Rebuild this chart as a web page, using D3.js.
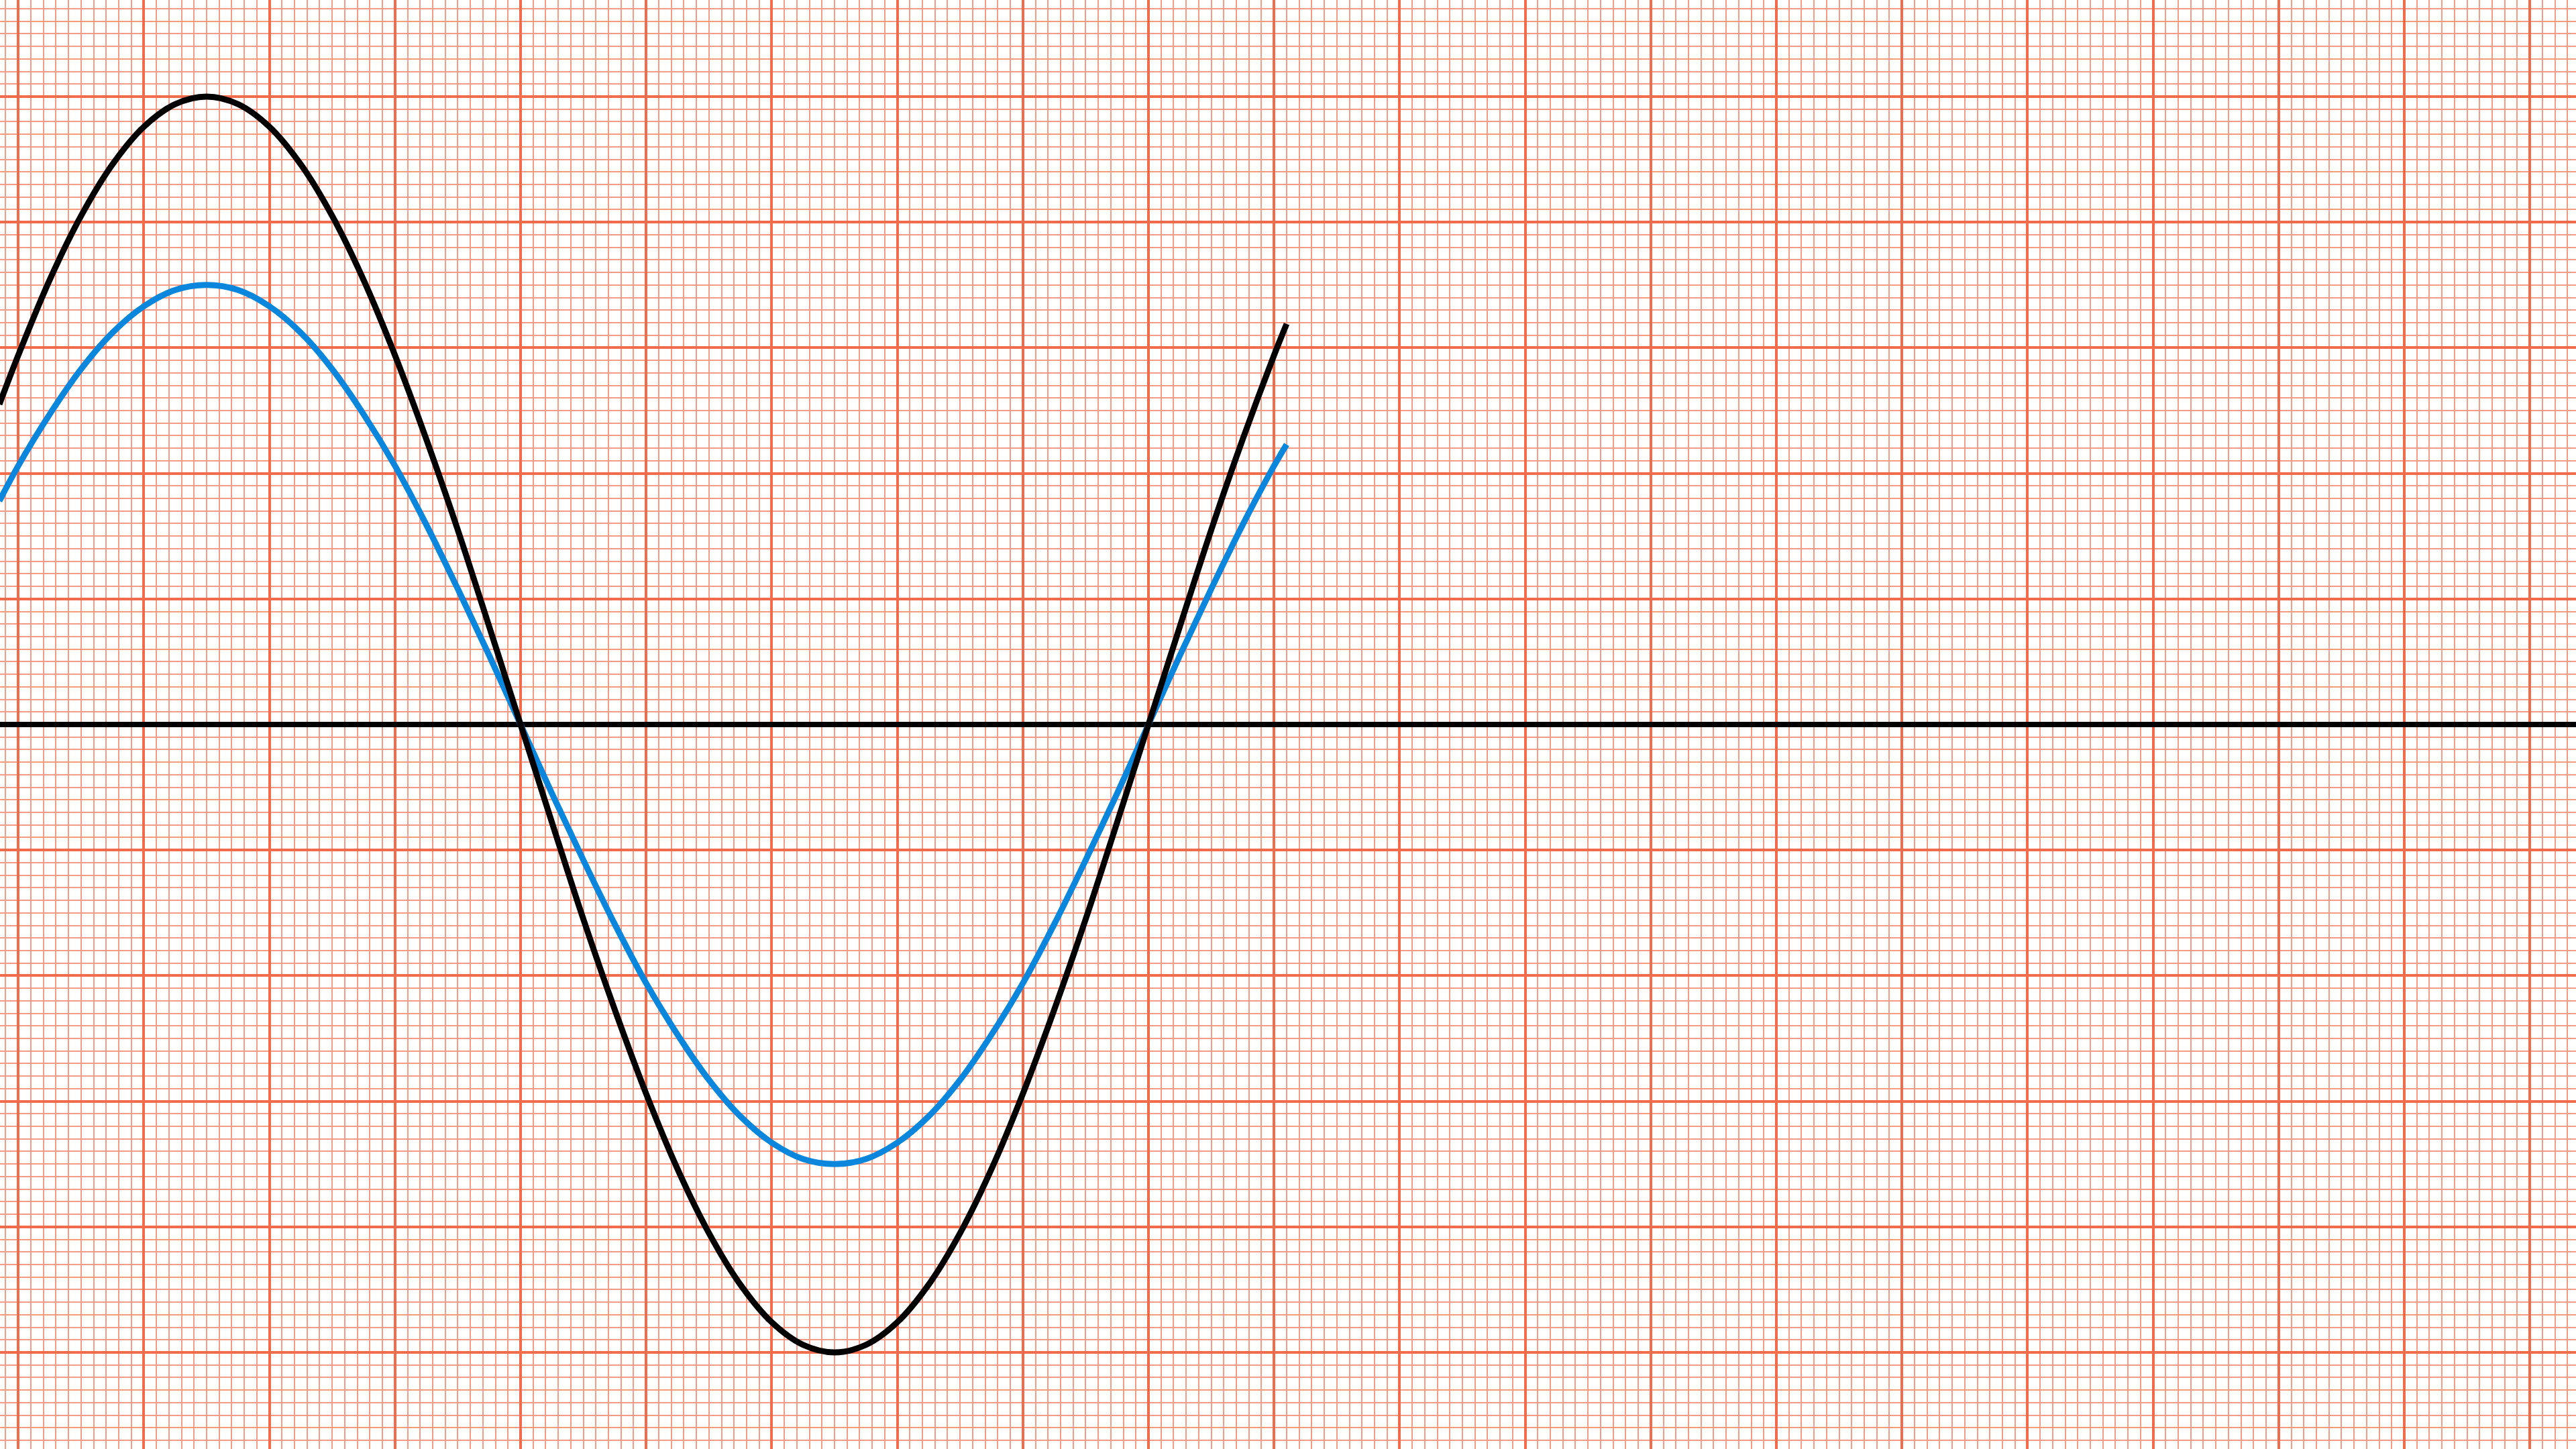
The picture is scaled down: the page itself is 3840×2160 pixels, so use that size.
<!DOCTYPE html>
<meta charset="utf-8">
<style>
body{margin:0;background:#fff;}
svg{display:block;}
.minor{stroke:#f69c86;stroke-width:2px;}
.major{stroke:#f26b4a;stroke-width:4px;}
</style>
<svg id="chart" width="3840" height="2160"></svg>
<script src="https://d3js.org/d3.v7.min.js"></script>
<script>
// values, in big-square units
const xs    = [-4.15, -4, -3.75, -3.5, -3.25, -3, -2.75, -2.5, -2.25, -2, -1.75, -1.5, -1.25, -1, -0.75, -0.5, -0.25,
               0, 0.25, 0.5, 0.75, 1, 1.25, 1.5, 1.75, 2, 2.25, 2.5, 2.75, 3, 3.25, 3.5, 3.75, 4, 4.25, 4.5, 4.75,
               5, 5.25, 5.5, 5.75, 6, 6.1]
const black = [2.55, 2.94, 3.54, 4.05, 4.46, 4.76, 4.94, 5, 4.94, 4.76, 4.46, 4.05, 3.54, 2.94, 2.27, 1.55, 0.78,
               0, -0.78, -1.55, -2.27, -2.94, -3.54, -4.05, -4.46, -4.76, -4.94, -5, -4.94, -4.76, -4.46, -4.05, -3.54, -2.94, -2.27, -1.55, -0.78,
               0, 0.78, 1.55, 2.27, 2.94, 3.19]
const blue  = [1.78, 2.06, 2.47, 2.83, 3.12, 3.33, 3.46, 3.5, 3.46, 3.33, 3.12, 2.83, 2.47, 2.06, 1.59, 1.08, 0.55,
               0, -0.55, -1.08, -1.59, -2.06, -2.47, -2.83, -3.12, -3.33, -3.46, -3.5, -3.46, -3.33, -3.12, -2.83, -2.47, -2.06, -1.59, -1.08, -0.55,
               0, 0.55, 1.08, 1.59, 2.06, 2.23]

const W = 3840, H = 2160
const unit = 187.2, ox = 776, oy = 1080

let x = d3.scaleLinear().domain([-ox / unit, (W - ox) / unit]).range([0, W])
let y = d3.scaleLinear().domain([-(H - oy) / unit, oy / unit]).range([H, 0])

let svg = d3.select('#chart')

// graph paper: small squares every 0.1, big squares every 1
let [x0, x1] = x.domain(), [y0, y1] = y.domain()
let vmin = d3.range(Math.ceil(x0 * 10), Math.floor(x1 * 10) + 1)
let hmin = d3.range(Math.ceil(y0 * 10), Math.floor(y1 * 10) + 1)

let grid = svg.append('g').attr('shape-rendering', 'crispEdges')
grid.selectAll('line.v').data(vmin.filter(d => d % 10 !== 0)).enter()
  .append('line').attr('class', 'v minor')
  .attr('x1', d => x(d / 10)).attr('x2', d => x(d / 10))
  .attr('y1', 0).attr('y2', H)
grid.selectAll('line.h').data(hmin.filter(d => d % 10 !== 0)).enter()
  .append('line').attr('class', 'h minor')
  .attr('y1', d => y(d / 10)).attr('y2', d => y(d / 10))
  .attr('x1', 0).attr('x2', W)
grid.selectAll('line.V').data(vmin.filter(d => d % 10 === 0)).enter()
  .append('line').attr('class', 'V major')
  .attr('x1', d => x(d / 10)).attr('x2', d => x(d / 10))
  .attr('y1', 0).attr('y2', H)
grid.selectAll('line.H').data(hmin.filter(d => d % 10 === 0)).enter()
  .append('line').attr('class', 'H major')
  .attr('y1', d => y(d / 10)).attr('y2', d => y(d / 10))
  .attr('x1', 0).attr('x2', W)

// the zero axis
svg.append('line')
  .attr('x1', 0).attr('x2', W)
  .attr('y1', y(0)).attr('y2', y(0))
  .attr('stroke', '#000').attr('stroke-width', 8)

let line = d3.line().curve(d3.curveCatmullRom.alpha(0.5))
  .x(d => x(d[0])).y(d => y(d[1]))

svg.append('path')
  .datum(d3.zip(xs, blue))
  .attr('d', line)
  .attr('fill', 'none').attr('stroke', '#0a86dc').attr('stroke-width', 9)

svg.append('path')
  .datum(d3.zip(xs, black))
  .attr('d', line)
  .attr('fill', 'none').attr('stroke', '#000').attr('stroke-width', 9)
</script>
